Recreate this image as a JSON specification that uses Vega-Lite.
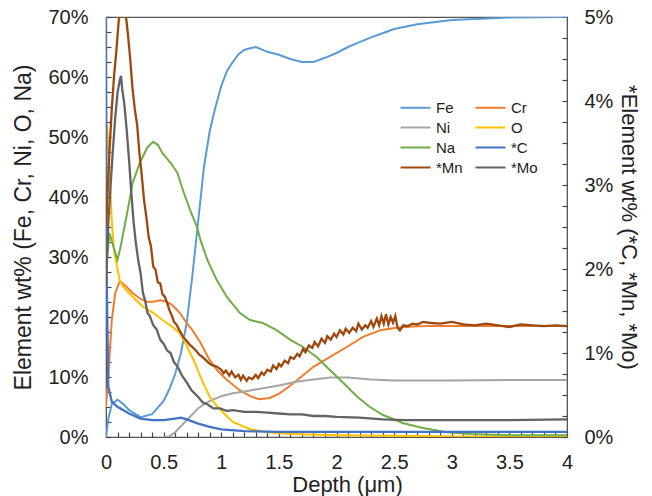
{
  "$schema": "https://vega.github.io/schema/vega-lite/v6.json",
  "width": 461,
  "height": 420,
  "autosize": "none",
  "padding": {"left": 106, "top": 17, "right": 85, "bottom": 59},
  "config": {
    "font": "Liberation Sans",
    "view": {"stroke": "#555", "strokeWidth": 1.2},
    "axis": {"grid": false, "zindex": 1, "ticks": true, "tickWidth": 1.2, "domainColor": "#555", "tickColor": "#444", "labelColor": "#222", "titleColor": "#222", "labelFont": "Liberation Sans", "titleFont": "Liberation Sans", "labelFontSize": 20, "titleFontSize": 22, "titleFontWeight": "normal", "labelOverlap": false, "labelFlush": false},
    "legend": {"labelFont": "Liberation Sans", "labelFontSize": 15, "labelColor": "#222"}
  },
  "datasets": {
    "left": [
      {"s":"Fe","d":0,"v":0},{"s":"Fe","d":0.02,"v":3},{"s":"Fe","d":0.05,"v":5.5},{"s":"Fe","d":0.1,"v":6.2},{"s":"Fe","d":0.15,"v":5.5},{"s":"Fe","d":0.2,"v":4.5},{"s":"Fe","d":0.3,"v":3.3},{"s":"Fe","d":0.4,"v":3.8},{"s":"Fe","d":0.5,"v":6},{"s":"Fe","d":0.55,"v":8},{"s":"Fe","d":0.6,"v":10.5},{"s":"Fe","d":0.65,"v":14},{"s":"Fe","d":0.7,"v":19},{"s":"Fe","d":0.75,"v":27},{"s":"Fe","d":0.8,"v":36},{"s":"Fe","d":0.85,"v":45},{"s":"Fe","d":0.9,"v":51},{"s":"Fe","d":0.95,"v":55},{"s":"Fe","d":1.0,"v":58.5},{"s":"Fe","d":1.05,"v":61},{"s":"Fe","d":1.1,"v":62.5},{"s":"Fe","d":1.15,"v":63.8},{"s":"Fe","d":1.2,"v":64.5},{"s":"Fe","d":1.25,"v":64.8},{"s":"Fe","d":1.3,"v":65},{"s":"Fe","d":1.4,"v":64.2},{"s":"Fe","d":1.5,"v":63.7},{"s":"Fe","d":1.6,"v":63},{"s":"Fe","d":1.7,"v":62.5},{"s":"Fe","d":1.8,"v":62.5},{"s":"Fe","d":1.9,"v":63.2},{"s":"Fe","d":2.0,"v":64},{"s":"Fe","d":2.1,"v":65},{"s":"Fe","d":2.2,"v":65.8},{"s":"Fe","d":2.3,"v":66.6},{"s":"Fe","d":2.4,"v":67.3},{"s":"Fe","d":2.5,"v":68},{"s":"Fe","d":2.7,"v":68.8},{"s":"Fe","d":3.0,"v":69.5},{"s":"Fe","d":3.5,"v":69.9},{"s":"Fe","d":4.0,"v":70},
      {"s":"Cr","d":0,"v":5},{"s":"Cr","d":0.02,"v":10},{"s":"Cr","d":0.05,"v":19.5},{"s":"Cr","d":0.08,"v":24},{"s":"Cr","d":0.12,"v":26},{"s":"Cr","d":0.18,"v":25},{"s":"Cr","d":0.23,"v":24},{"s":"Cr","d":0.3,"v":23},{"s":"Cr","d":0.36,"v":22.5},{"s":"Cr","d":0.42,"v":22.6},{"s":"Cr","d":0.47,"v":22.8},{"s":"Cr","d":0.52,"v":22.6},{"s":"Cr","d":0.56,"v":22.2},{"s":"Cr","d":0.6,"v":21.5},{"s":"Cr","d":0.64,"v":20.7},{"s":"Cr","d":0.7,"v":19},{"s":"Cr","d":0.75,"v":17.8},{"s":"Cr","d":0.82,"v":15.7},{"s":"Cr","d":0.9,"v":12.8},{"s":"Cr","d":0.97,"v":11},{"s":"Cr","d":1.05,"v":9.5},{"s":"Cr","d":1.16,"v":7.8},{"s":"Cr","d":1.25,"v":6.8},{"s":"Cr","d":1.33,"v":6.3},{"s":"Cr","d":1.42,"v":6.5},{"s":"Cr","d":1.5,"v":7.2},{"s":"Cr","d":1.58,"v":8.3},{"s":"Cr","d":1.66,"v":9.5},{"s":"Cr","d":1.8,"v":11.7},{"s":"Cr","d":1.94,"v":13.3},{"s":"Cr","d":2.09,"v":15},{"s":"Cr","d":2.23,"v":16.7},{"s":"Cr","d":2.38,"v":17.8},{"s":"Cr","d":2.52,"v":18.2},{"s":"Cr","d":2.66,"v":18.4},{"s":"Cr","d":2.8,"v":18.5},{"s":"Cr","d":3.0,"v":18.5},{"s":"Cr","d":3.5,"v":18.5},{"s":"Cr","d":4.0,"v":18.5},
      {"s":"Ni","d":0.5,"v":0},{"s":"Ni","d":0.55,"v":0.1},{"s":"Ni","d":0.6,"v":0.8},{"s":"Ni","d":0.7,"v":2.8},{"s":"Ni","d":0.8,"v":4.8},{"s":"Ni","d":0.9,"v":6},{"s":"Ni","d":1.0,"v":6.8},{"s":"Ni","d":1.1,"v":7.3},{"s":"Ni","d":1.2,"v":7.6},{"s":"Ni","d":1.35,"v":8.1},{"s":"Ni","d":1.5,"v":8.6},{"s":"Ni","d":1.65,"v":9.2},{"s":"Ni","d":1.8,"v":9.6},{"s":"Ni","d":1.95,"v":9.9},{"s":"Ni","d":2.1,"v":9.9},{"s":"Ni","d":2.3,"v":9.6},{"s":"Ni","d":2.5,"v":9.4},{"s":"Ni","d":3.0,"v":9.4},{"s":"Ni","d":3.5,"v":9.5},{"s":"Ni","d":4.0,"v":9.5},
      {"s":"O","d":0,"v":45},{"s":"O","d":0.01,"v":52},{"s":"O","d":0.03,"v":45},{"s":"O","d":0.05,"v":36},{"s":"O","d":0.07,"v":31},{"s":"O","d":0.1,"v":28},{"s":"O","d":0.12,"v":26},{"s":"O","d":0.15,"v":25},{"s":"O","d":0.2,"v":24},{"s":"O","d":0.25,"v":23},{"s":"O","d":0.32,"v":21.7},{"s":"O","d":0.41,"v":20.7},{"s":"O","d":0.49,"v":19.5},{"s":"O","d":0.58,"v":18.3},{"s":"O","d":0.64,"v":17.3},{"s":"O","d":0.68,"v":16},{"s":"O","d":0.73,"v":14},{"s":"O","d":0.78,"v":12},{"s":"O","d":0.82,"v":10},{"s":"O","d":0.86,"v":8.3},{"s":"O","d":0.9,"v":6.7},{"s":"O","d":0.96,"v":5.2},{"s":"O","d":1.02,"v":4},{"s":"O","d":1.1,"v":2.5},{"s":"O","d":1.25,"v":1.3},{"s":"O","d":1.4,"v":0.8},{"s":"O","d":1.6,"v":0.5},{"s":"O","d":2.0,"v":0.3},{"s":"O","d":2.5,"v":0.2},{"s":"O","d":3.0,"v":0.1},{"s":"O","d":4.0,"v":0},
      {"s":"Na","d":0,"v":28},{"s":"Na","d":0.03,"v":34},{"s":"Na","d":0.06,"v":32},{"s":"Na","d":0.1,"v":29.5},{"s":"Na","d":0.13,"v":32},{"s":"Na","d":0.16,"v":35},{"s":"Na","d":0.2,"v":39},{"s":"Na","d":0.23,"v":42.3},{"s":"Na","d":0.3,"v":46},{"s":"Na","d":0.36,"v":48.3},{"s":"Na","d":0.41,"v":49.2},{"s":"Na","d":0.45,"v":48.7},{"s":"Na","d":0.49,"v":47.3},{"s":"Na","d":0.56,"v":45.7},{"s":"Na","d":0.62,"v":44},{"s":"Na","d":0.67,"v":41},{"s":"Na","d":0.73,"v":37.8},{"s":"Na","d":0.79,"v":35},{"s":"Na","d":0.82,"v":32.8},{"s":"Na","d":0.88,"v":29.5},{"s":"Na","d":0.96,"v":26.2},{"s":"Na","d":1.05,"v":23.3},{"s":"Na","d":1.16,"v":20.7},{"s":"Na","d":1.25,"v":19.5},{"s":"Na","d":1.36,"v":19},{"s":"Na","d":1.48,"v":17.8},{"s":"Na","d":1.6,"v":16.2},{"s":"Na","d":1.71,"v":15},{"s":"Na","d":1.83,"v":13.3},{"s":"Na","d":1.94,"v":11.2},{"s":"Na","d":2.06,"v":9},{"s":"Na","d":2.18,"v":6.7},{"s":"Na","d":2.29,"v":5},{"s":"Na","d":2.4,"v":3.7},{"s":"Na","d":2.58,"v":2.3},{"s":"Na","d":2.75,"v":1.5},{"s":"Na","d":2.96,"v":0.8},{"s":"Na","d":3.16,"v":0.5},{"s":"Na","d":3.5,"v":0.3},{"s":"Na","d":4.0,"v":0.3}
    ],
    "right": [
      {"s":"*C","d":0,"v":5},{"s":"*C","d":0.005,"v":2},{"s":"*C","d":0.02,"v":0.6},{"s":"*C","d":0.05,"v":0.42},{"s":"*C","d":0.1,"v":0.36},{"s":"*C","d":0.2,"v":0.28},{"s":"*C","d":0.3,"v":0.22},{"s":"*C","d":0.4,"v":0.2},{"s":"*C","d":0.5,"v":0.2},{"s":"*C","d":0.6,"v":0.22},{"s":"*C","d":0.65,"v":0.23},{"s":"*C","d":0.7,"v":0.21},{"s":"*C","d":0.8,"v":0.16},{"s":"*C","d":0.9,"v":0.12},{"s":"*C","d":1.0,"v":0.09},{"s":"*C","d":1.2,"v":0.07},{"s":"*C","d":1.5,"v":0.06},{"s":"*C","d":2.0,"v":0.06},{"s":"*C","d":3.0,"v":0.06},{"s":"*C","d":4.0,"v":0.06},
      {"s":"*Mn","d":0,"v":2.5},{"s":"*Mn","d":0.01,"v":2.8},{"s":"*Mn","d":0.03,"v":3.4},{"s":"*Mn","d":0.05,"v":3.9},{"s":"*Mn","d":0.07,"v":4.3},{"s":"*Mn","d":0.09,"v":4.6},{"s":"*Mn","d":0.11,"v":4.95},{"s":"*Mn","d":0.13,"v":5.15},{"s":"*Mn","d":0.15,"v":5.2},{"s":"*Mn","d":0.17,"v":5.05},{"s":"*Mn","d":0.19,"v":4.8},{"s":"*Mn","d":0.21,"v":4.5},{"s":"*Mn","d":0.23,"v":4.15},{"s":"*Mn","d":0.25,"v":3.9},{"s":"*Mn","d":0.27,"v":3.72},{"s":"*Mn","d":0.29,"v":3.38},{"s":"*Mn","d":0.31,"v":3.12},{"s":"*Mn","d":0.33,"v":2.82},{"s":"*Mn","d":0.35,"v":2.62},{"s":"*Mn","d":0.37,"v":2.38},{"s":"*Mn","d":0.39,"v":2.27},{"s":"*Mn","d":0.41,"v":2.03},{"s":"*Mn","d":0.43,"v":1.99},{"s":"*Mn","d":0.45,"v":1.84},{"s":"*Mn","d":0.47,"v":1.83},{"s":"*Mn","d":0.49,"v":1.7},{"s":"*Mn","d":0.51,"v":1.67},{"s":"*Mn","d":0.53,"v":1.6},{"s":"*Mn","d":0.55,"v":1.51},{"s":"*Mn","d":0.57,"v":1.45},{"s":"*Mn","d":0.59,"v":1.37},{"s":"*Mn","d":0.61,"v":1.34},{"s":"*Mn","d":0.63,"v":1.29},{"s":"*Mn","d":0.65,"v":1.24},{"s":"*Mn","d":0.67,"v":1.19},{"s":"*Mn","d":0.69,"v":1.16},{"s":"*Mn","d":0.72,"v":1.11},{"s":"*Mn","d":0.75,"v":1.07},{"s":"*Mn","d":0.78,"v":1.03},{"s":"*Mn","d":0.81,"v":0.98},{"s":"*Mn","d":0.84,"v":0.95},{"s":"*Mn","d":0.87,"v":0.91},{"s":"*Mn","d":0.9,"v":0.87},{"s":"*Mn","d":0.93,"v":0.85},{"s":"*Mn","d":0.96,"v":0.84},{"s":"*Mn","d":1.0,"v":0.8},{"s":"*Mn","d":1.02,"v":0.76},{"s":"*Mn","d":1.04,"v":0.79},{"s":"*Mn","d":1.07,"v":0.73},{"s":"*Mn","d":1.09,"v":0.78},{"s":"*Mn","d":1.12,"v":0.71},{"s":"*Mn","d":1.15,"v":0.74},{"s":"*Mn","d":1.17,"v":0.68},{"s":"*Mn","d":1.19,"v":0.73},{"s":"*Mn","d":1.22,"v":0.67},{"s":"*Mn","d":1.24,"v":0.71},{"s":"*Mn","d":1.27,"v":0.69},{"s":"*Mn","d":1.3,"v":0.74},{"s":"*Mn","d":1.32,"v":0.7},{"s":"*Mn","d":1.35,"v":0.77},{"s":"*Mn","d":1.37,"v":0.74},{"s":"*Mn","d":1.4,"v":0.8},{"s":"*Mn","d":1.43,"v":0.78},{"s":"*Mn","d":1.45,"v":0.85},{"s":"*Mn","d":1.48,"v":0.81},{"s":"*Mn","d":1.5,"v":0.87},{"s":"*Mn","d":1.52,"v":0.84},{"s":"*Mn","d":1.55,"v":0.91},{"s":"*Mn","d":1.58,"v":0.88},{"s":"*Mn","d":1.6,"v":0.95},{"s":"*Mn","d":1.63,"v":0.93},{"s":"*Mn","d":1.66,"v":0.99},{"s":"*Mn","d":1.68,"v":0.96},{"s":"*Mn","d":1.71,"v":1.05},{"s":"*Mn","d":1.73,"v":1.01},{"s":"*Mn","d":1.76,"v":1.09},{"s":"*Mn","d":1.79,"v":1.06},{"s":"*Mn","d":1.81,"v":1.13},{"s":"*Mn","d":1.84,"v":1.08},{"s":"*Mn","d":1.87,"v":1.17},{"s":"*Mn","d":1.9,"v":1.12},{"s":"*Mn","d":1.92,"v":1.2},{"s":"*Mn","d":1.95,"v":1.16},{"s":"*Mn","d":1.98,"v":1.23},{"s":"*Mn","d":2.0,"v":1.19},{"s":"*Mn","d":2.03,"v":1.27},{"s":"*Mn","d":2.06,"v":1.22},{"s":"*Mn","d":2.08,"v":1.29},{"s":"*Mn","d":2.11,"v":1.24},{"s":"*Mn","d":2.14,"v":1.3},{"s":"*Mn","d":2.17,"v":1.26},{"s":"*Mn","d":2.19,"v":1.35},{"s":"*Mn","d":2.22,"v":1.28},{"s":"*Mn","d":2.25,"v":1.33},{"s":"*Mn","d":2.27,"v":1.3},{"s":"*Mn","d":2.3,"v":1.38},{"s":"*Mn","d":2.32,"v":1.31},{"s":"*Mn","d":2.35,"v":1.41},{"s":"*Mn","d":2.37,"v":1.33},{"s":"*Mn","d":2.39,"v":1.44},{"s":"*Mn","d":2.41,"v":1.35},{"s":"*Mn","d":2.43,"v":1.46},{"s":"*Mn","d":2.45,"v":1.34},{"s":"*Mn","d":2.47,"v":1.43},{"s":"*Mn","d":2.49,"v":1.36},{"s":"*Mn","d":2.51,"v":1.44},{"s":"*Mn","d":2.53,"v":1.3},{"s":"*Mn","d":2.55,"v":1.27},{"s":"*Mn","d":2.58,"v":1.33},{"s":"*Mn","d":2.62,"v":1.32},{"s":"*Mn","d":2.66,"v":1.35},{"s":"*Mn","d":2.7,"v":1.34},{"s":"*Mn","d":2.75,"v":1.37},{"s":"*Mn","d":2.8,"v":1.36},{"s":"*Mn","d":2.9,"v":1.35},{"s":"*Mn","d":3.0,"v":1.37},{"s":"*Mn","d":3.1,"v":1.34},{"s":"*Mn","d":3.2,"v":1.33},{"s":"*Mn","d":3.3,"v":1.35},{"s":"*Mn","d":3.4,"v":1.33},{"s":"*Mn","d":3.5,"v":1.31},{"s":"*Mn","d":3.6,"v":1.34},{"s":"*Mn","d":3.7,"v":1.33},{"s":"*Mn","d":3.8,"v":1.32},{"s":"*Mn","d":3.9,"v":1.33},{"s":"*Mn","d":4.0,"v":1.32},
      {"s":"*Mo","d":0,"v":1.8},{"s":"*Mo","d":0.02,"v":2.55},{"s":"*Mo","d":0.04,"v":3.0},{"s":"*Mo","d":0.06,"v":3.42},{"s":"*Mo","d":0.08,"v":3.8},{"s":"*Mo","d":0.1,"v":4.1},{"s":"*Mo","d":0.12,"v":4.25},{"s":"*Mo","d":0.13,"v":4.3},{"s":"*Mo","d":0.14,"v":4.15},{"s":"*Mo","d":0.15,"v":4.05},{"s":"*Mo","d":0.16,"v":3.95},{"s":"*Mo","d":0.18,"v":3.65},{"s":"*Mo","d":0.2,"v":3.3},{"s":"*Mo","d":0.22,"v":2.9},{"s":"*Mo","d":0.24,"v":2.55},{"s":"*Mo","d":0.26,"v":2.3},{"s":"*Mo","d":0.28,"v":2.1},{"s":"*Mo","d":0.3,"v":1.95},{"s":"*Mo","d":0.32,"v":1.72},{"s":"*Mo","d":0.34,"v":1.62},{"s":"*Mo","d":0.36,"v":1.48},{"s":"*Mo","d":0.38,"v":1.44},{"s":"*Mo","d":0.41,"v":1.33},{"s":"*Mo","d":0.44,"v":1.28},{"s":"*Mo","d":0.47,"v":1.16},{"s":"*Mo","d":0.5,"v":1.11},{"s":"*Mo","d":0.53,"v":1.03},{"s":"*Mo","d":0.56,"v":1.0},{"s":"*Mo","d":0.59,"v":0.89},{"s":"*Mo","d":0.62,"v":0.84},{"s":"*Mo","d":0.66,"v":0.73},{"s":"*Mo","d":0.7,"v":0.65},{"s":"*Mo","d":0.74,"v":0.56},{"s":"*Mo","d":0.79,"v":0.49},{"s":"*Mo","d":0.84,"v":0.41},{"s":"*Mo","d":0.88,"v":0.39},{"s":"*Mo","d":0.93,"v":0.34},{"s":"*Mo","d":0.99,"v":0.34},{"s":"*Mo","d":1.05,"v":0.31},{"s":"*Mo","d":1.1,"v":0.32},{"s":"*Mo","d":1.2,"v":0.3},{"s":"*Mo","d":1.3,"v":0.3},{"s":"*Mo","d":1.4,"v":0.29},{"s":"*Mo","d":1.5,"v":0.28},{"s":"*Mo","d":1.6,"v":0.27},{"s":"*Mo","d":1.7,"v":0.27},{"s":"*Mo","d":1.8,"v":0.25},{"s":"*Mo","d":1.9,"v":0.25},{"s":"*Mo","d":2.0,"v":0.24},{"s":"*Mo","d":2.2,"v":0.23},{"s":"*Mo","d":2.4,"v":0.21},{"s":"*Mo","d":2.6,"v":0.2},{"s":"*Mo","d":2.8,"v":0.2},{"s":"*Mo","d":3.0,"v":0.2},{"s":"*Mo","d":3.5,"v":0.2},{"s":"*Mo","d":4.0,"v":0.21}
    ]
  },
  "encoding": {
    "x": {
      "field": "d", "type": "quantitative",
      "scale": {"domain": [0, 4], "nice": false},
      "axis": {
        "title": "Depth (μm)",
        "values": [0,0.1,0.2,0.3,0.4,0.5,0.6,0.7,0.8,0.9,1,1.1,1.2,1.3,1.4,1.5,1.6,1.7,1.8,1.9,2,2.1,2.2,2.3,2.4,2.5,2.6,2.7,2.8,2.9,3,3.1,3.2,3.3,3.4,3.5,3.6,3.7,3.8,3.9,4],
        "format": "~g",
        "labelExpr": "abs(datum.value*2 - round(datum.value*2)) < 0.001 ? datum.label : ''",
        "tickSize": -5, "labelPadding": 20, "titlePadding": 2, "titleX": 241
      }
    },
    "color": {
      "field": "s", "type": "nominal",
      "scale": {"domain": ["Fe","Ni","Na","*Mn","Cr","O","*C","*Mo"], "range": ["#5B9BD5","#A5A5A5","#70AD47","#9E480E","#ED7D31","#FFC000","#4472C4","#636363"]},
      "legend": {"title": null, "orient": "none", "legendX": 312, "legendY": 83, "columns": 2, "columnPadding": 8, "rowPadding": 4, "symbolType": "M-5,0L1,0", "symbolSize": 100, "symbolStrokeWidth": 2, "labelOffset": 3}
    }
  },
  "layer": [
    {
      "data": {"name": "left"},
      "mark": {"type": "line", "strokeWidth": 2, "clip": true},
      "encoding": {
        "y": {
          "field": "v", "type": "quantitative",
          "scale": {"domain": [0, 70], "nice": false},
          "axis": {
            "title": "Element   wt% (Fe, Cr, Ni, O, Na)",
            "titleFontSize": 23,
            "values": [0,2.5,5,7.5,10,12.5,15,17.5,20,22.5,25,27.5,30,32.5,35,37.5,40,42.5,45,47.5,50,52.5,55,57.5,60,62.5,65,67.5,70],
            "labelExpr": "datum.value % 10 == 0 ? datum.value + '%' : ''",
            "tickSize": -5, "labelPadding": 23, "titlePadding": 12
          }
        }
      }
    },
    {
      "data": {"name": "right"},
      "mark": {"type": "line", "strokeWidth": 2.3, "clip": true},
      "encoding": {
        "y": {
          "field": "v", "type": "quantitative",
          "scale": {"domain": [0, 5], "nice": false},
          "axis": {
            "orient": "right",
            "title": "*Element   wt% (*C, *Mn, *Mo)",
            "values": [0,0.25,0.5,0.75,1,1.25,1.5,1.75,2,2.25,2.5,2.75,3,3.25,3.5,3.75,4,4.25,4.5,4.75,5],
            "labelExpr": "datum.value % 1 == 0 ? datum.value + '%' : ''",
            "tickSize": -5, "labelPadding": 22, "titlePadding": 4
          }
        }
      }
    }
  ],
  "resolve": {"scale": {"y": "independent"}}
}
